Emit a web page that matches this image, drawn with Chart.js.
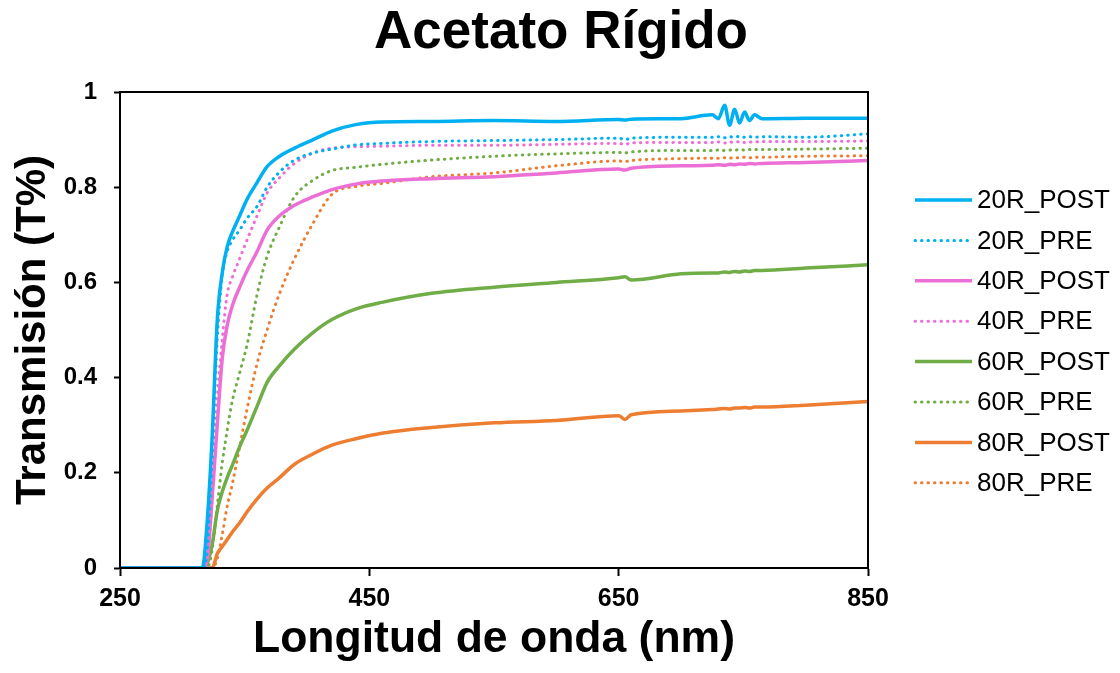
<!DOCTYPE html>
<html>
<head>
<meta charset="utf-8">
<script src="https://cdn.jsdelivr.net/npm/chart.js@4.4.1/dist/chart.umd.min.js"></script>
<style>
  body { margin: 0; background: #fff; }
  canvas { display: block; }
</style>
</head>
<body>
<canvas id="chart" width="1120" height="673"></canvas>
<script>
// wavelength grid (nm), shared by every series
const wavelengths = [250, 312, 316, 320, 324, 328, 332, 336, 340, 346, 352, 360, 368, 378, 390, 405, 420, 440, 460, 500,
                     550, 600, 650, 655, 660, 700, 725, 730, 735, 739, 743, 747, 751, 755, 759, 765, 800, 850];

const post20 = [0, 0, 0, 0.1, 0.28, 0.52, 0.62, 0.675, 0.705, 0.74, 0.775, 0.81, 0.843, 0.865, 0.882, 0.9, 0.918, 0.932, 0.937, 0.938,
                0.94, 0.938, 0.942, 0.941, 0.943, 0.944, 0.952, 0.944, 0.972, 0.93, 0.964, 0.935, 0.958, 0.94, 0.952, 0.944, 0.945, 0.945];
const pre20 = [0, 0, 0, 0.04, 0.24, 0.48, 0.615, 0.665, 0.688, 0.71, 0.735, 0.76, 0.8, 0.832, 0.857, 0.872, 0.88, 0.889, 0.892, 0.896,
               0.898, 0.9, 0.903, 0.9, 0.903, 0.905, 0.905, 0.906, 0.904, 0.906, 0.905, 0.907, 0.905, 0.906, 0.905, 0.906, 0.905, 0.912];
const post40 = [0, 0, 0, 0.02, 0.15, 0.3, 0.44, 0.51, 0.55, 0.59, 0.625, 0.665, 0.71, 0.74, 0.762, 0.78, 0.795, 0.807, 0.813, 0.818,
                0.822, 0.83, 0.838, 0.836, 0.84, 0.845, 0.846, 0.847, 0.846, 0.848, 0.847, 0.849, 0.848, 0.85, 0.849, 0.85, 0.852, 0.856];
const pre40 = [0, 0, 0, 0.02, 0.15, 0.35, 0.48, 0.575, 0.61, 0.65, 0.69, 0.74, 0.788, 0.82, 0.85, 0.872, 0.882, 0.885, 0.886, 0.888,
               0.888, 0.89, 0.892, 0.89, 0.893, 0.894, 0.894, 0.895, 0.893, 0.895, 0.894, 0.896, 0.894, 0.895, 0.895, 0.896, 0.896, 0.897];
const post60 = [0, 0, 0, 0.01, 0.05, 0.12, 0.16, 0.19, 0.215, 0.255, 0.29, 0.34, 0.39, 0.425, 0.46, 0.495, 0.522, 0.545, 0.558, 0.577,
                0.59, 0.6, 0.61, 0.612, 0.605, 0.618, 0.62, 0.62, 0.622, 0.621, 0.623, 0.622, 0.624, 0.623, 0.625, 0.625, 0.63, 0.637];
const pre60 = [0, 0, 0, 0, 0.04, 0.13, 0.22, 0.29, 0.35, 0.41, 0.47, 0.575, 0.655, 0.717, 0.78, 0.815, 0.835, 0.842, 0.848, 0.857,
               0.865, 0.87, 0.873, 0.872, 0.874, 0.877, 0.877, 0.878, 0.877, 0.878, 0.878, 0.879, 0.878, 0.879, 0.879, 0.879, 0.88, 0.882];
const post80 = [0, 0, 0, 0, 0, 0.03, 0.045, 0.06, 0.075, 0.095, 0.118, 0.145, 0.168, 0.19, 0.218, 0.24, 0.258, 0.272, 0.283, 0.295,
                0.305, 0.31, 0.32, 0.312, 0.322, 0.33, 0.333, 0.334, 0.335, 0.334, 0.336, 0.336, 0.337, 0.336, 0.338, 0.338, 0.342, 0.35];
const pre80 = [0, 0, 0, 0, 0, 0.02, 0.07, 0.13, 0.175, 0.255, 0.335, 0.43, 0.5, 0.577, 0.65, 0.725, 0.785, 0.802, 0.808, 0.822,
               0.83, 0.845, 0.855, 0.854, 0.856, 0.86, 0.861, 0.861, 0.862, 0.861, 0.862, 0.862, 0.863, 0.862, 0.863, 0.863, 0.865, 0.866];

const seriesNames = ["20R_POST", "20R_PRE", "40R_POST", "40R_PRE", "60R_POST", "60R_PRE", "80R_POST", "80R_PRE"];
const seriesValues = [post20, pre20, post40, pre40, post60, pre60, post80, pre80];
const seriesColors = ["#00b0f0", "#00b0f0", "#ec6fd6", "#ec6fd6", "#70ad47", "#70ad47", "#ed7d31", "#ed7d31"];

const chartTitle = 'Acetato Rígido';
const FONT = "'Liberation Sans', Arial, sans-serif";

const datasets = seriesNames.map((name, i) => {
    const dotted = name.endsWith("PRE");
    return {
        label: name,
        data: wavelengths.map((w, j) => ({x: w, y: seriesValues[i][j]})),
        borderColor: seriesColors[i],
        borderWidth: dotted ? 3 : 3.5,
        borderDash: dotted ? [0.5, 6] : [],
        borderCapStyle: dotted ? 'round' : 'butt',
        pointRadius: 0,
        cubicInterpolationMode: 'monotone',
        fill: false
    };
});

// box around the plot area (top and right edges)
const frame = {
    id: 'frame',
    afterDatasetsDraw(chart) {
        const {ctx, chartArea: a} = chart;
        ctx.save();
        ctx.strokeStyle = '#000';
        ctx.lineWidth = 2;
        ctx.strokeRect(a.left, a.top, a.right - a.left, a.bottom - a.top);
        ctx.restore();
    }
};

// title centred over the whole figure, legend on the right
const extras = {
    id: 'extras',
    afterDraw(chart) {
        const ctx = chart.ctx;
        ctx.save();
        ctx.fillStyle = '#000';
        ctx.textAlign = 'center';
        ctx.textBaseline = 'alphabetic';
        ctx.font = "bold 53px " + FONT;
        ctx.fillText(chartTitle, 561, 48);

        ctx.textAlign = 'left';
        ctx.textBaseline = 'middle';
        ctx.font = "26px " + FONT;
        chart.data.datasets.forEach((ds, i) => {
            const y = 200 + i * 40.4;
            ctx.strokeStyle = ds.borderColor;
            ctx.lineWidth = ds.borderWidth;
            ctx.lineCap = ds.borderCapStyle;
            ctx.setLineDash(ds.borderDash);
            ctx.beginPath();
            ctx.moveTo(915, y);
            ctx.lineTo(972, y);
            ctx.stroke();
            ctx.setLineDash([]);
            ctx.fillText(ds.label, 977, y + 1);
        });
        ctx.restore();
    }
};

new Chart(document.getElementById('chart'), {
    type: 'line',
    data: {datasets: datasets},
    options: {
        responsive: false,
        animation: false,
        layout: {padding: {left: 0, right: 252, top: 92, bottom: 0}},
        plugins: {
            legend: {display: false},
            tooltip: {enabled: false},
            title: {display: false}
        },
        scales: {
            x: {
                type: 'linear',
                min: 250,
                max: 850,
                afterFit(scale) { scale.height = 105; },
                ticks: {
                    stepSize: 200,
                    color: '#000',
                    padding: 8,
                    font: {family: FONT, size: 25, weight: 'bold'}
                },
                grid: {drawOnChartArea: false, tickLength: 8, tickColor: '#000', tickWidth: 2},
                border: {color: '#000', width: 2},
                title: {
                    display: true,
                    text: 'Longitud de onda (nm)',
                    color: '#000',
                    font: {family: FONT, size: 44.5, weight: 'bold', lineHeight: 1.2},
                    padding: {top: 0, bottom: 7}
                }
            },
            y: {
                min: 0,
                max: 1,
                afterFit(scale) { scale.width = 120; },
                ticks: {
                    stepSize: 0.2,
                    color: '#000',
                    padding: 17,
                    font: {family: FONT, size: 24, weight: 'bold'},
                    callback: (v) => String(Math.round(v * 10) / 10)
                },
                grid: {drawOnChartArea: false, tickLength: 6, tickColor: '#000', tickWidth: 2},
                border: {color: '#000', width: 2},
                title: {
                    display: true,
                    text: 'Transmisión (T%)',
                    color: '#000',
                    font: {family: FONT, size: 42, weight: 'bold', lineHeight: 1.2},
                    padding: {top: 8, bottom: 0}
                }
            }
        }
    },
    plugins: [frame, extras]
});
</script>
</body>
</html>
